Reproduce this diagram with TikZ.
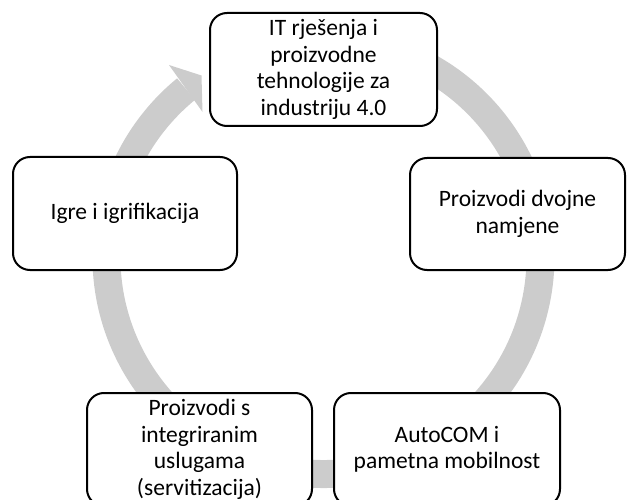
\documentclass[tikz,border=0pt]{standalone}
\usepackage{fontspec}
\setmainfont{Carlito}
\definecolor{ringgray}{RGB}{204,204,204}
\begin{document}
\begin{tikzpicture}[x=1pt,y=1pt,
  cyclebox/.style={draw=black, line width=2pt, fill=white, rounded corners=17pt,
    align=center, inner sep=0pt, font=\fontsize{23.5}{26.5}\selectfont},
  ring/.style={draw=ringgray, line width=28pt},
  ringhead/.style={fill=ringgray}]
\clip (0,0) rectangle (627,499);
\coordinate (c) at (323.5,242);
% circular band
\draw[ring] ([shift={(80:217)}]c) arc[start angle=80, end angle=-230.7, radius=217];
% arrow head
\coordinate (h1) at (169,434);
\coordinate (h2) at (201.5,423.5);
\coordinate (h3) at (202.5,387);
\fill[ringhead] (h1) -- (h2) -- (h3) -- cycle;
% nodes
\node[cyclebox, minimum width=227, minimum height=113] (it) at (323.5,429.5)
  {IT rješenja i\\proizvodne\\tehnologije za\\industriju 4.0};
\node[cyclebox, minimum width=215, minimum height=112] (dvojne) at (517.5,285)
  {Proizvodi dvojne\\namjene};
\node[cyclebox, minimum width=226, minimum height=113] (autocom) at (447,49.5)
  {AutoCOM i\\pametna mobilnost};
\node[cyclebox, minimum width=225, minimum height=113] (servit) at (199.5,49.5)
  {Proizvodi s\\integriranim\\uslugama\\(servitizacija)};
\node[cyclebox, minimum width=224, minimum height=113] (igre) at (125,285.5)
  {Igre i igrifikacija};
\end{tikzpicture}
\end{document}
